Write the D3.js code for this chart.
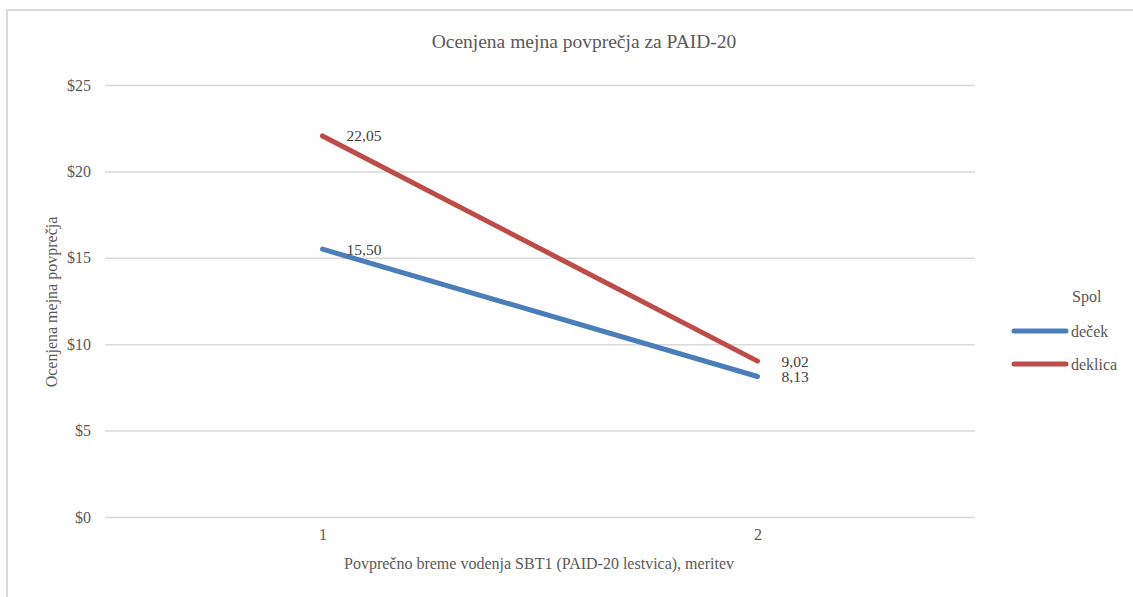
<!DOCTYPE html>
<html>
<head>
<meta charset="utf-8">
<script src="https://cdn.jsdelivr.net/npm/d3@7"></script>
<style>
  body { margin: 0; background: #fff; overflow: hidden; }
  svg text { font-family: "Liberation Serif", "Times New Roman", serif; fill: #595959; }
</style>
</head>
<body>
<div id="chart"></div>
<script>
// data
const categories = ["1", "2"];
const seriesNames = ["deček", "deklica"];
const decekValues = [15.50, 8.13];
const deklicaValues = [22.05, 9.02];
const yTicks = [0, 5, 10, 15, 20, 25];

const width = 1133, height = 597;
const margin = { top: 85, right: 158, bottom: 80, left: 105 };
const innerWidth = width - margin.left - margin.right;
const innerHeight = height - margin.top - margin.bottom;
const fontFamily = '"Liberation Serif", "Times New Roman", serif';

const colors = { "deček": "#4a7ebb", "deklica": "#be4b48" };
const series = [
  { name: seriesNames[0], values: decekValues },
  { name: seriesNames[1], values: deklicaValues }
];

const svg = d3.select("#chart").append("svg")
  .attr("width", width)
  .attr("height", height);

// chart frame: only top and left edges show in the reference
svg.append("line")
  .attr("x1", 7).attr("x2", width).attr("y1", 10).attr("y2", 10)
  .attr("stroke", "#d9d9d9").attr("stroke-width", 2);
svg.append("line")
  .attr("x1", 7).attr("x2", 7).attr("y1", 9).attr("y2", height)
  .attr("stroke", "#d9d9d9").attr("stroke-width", 2);

const g = svg.append("g").attr("transform", `translate(${margin.left},${margin.top})`);

const x = d3.scalePoint().domain(categories).range([0, innerWidth]).padding(0.5);
const y = d3.scaleLinear().domain([0, 25]).range([innerHeight, 0]);

// gridlines + y labels
const yAxis = g.append("g")
  .call(d3.axisLeft(y).tickValues(yTicks).tickSize(-innerWidth).tickPadding(14)
    .tickFormat(d => "$" + d));
yAxis.attr("font-family", null).attr("font-size", null);
yAxis.select(".domain").remove();
yAxis.selectAll(".tick line").attr("stroke", "#d9d9d9").attr("stroke-width", 1.5);
yAxis.selectAll(".tick text")
  .style("font-family", fontFamily)
  .style("font-size", "16px").attr("fill", "#595959");

// x labels
const xAxis = g.append("g")
  .attr("transform", `translate(0,${innerHeight})`)
  .call(d3.axisBottom(x).tickSize(0).tickPadding(12));
xAxis.attr("font-family", null).attr("font-size", null);
xAxis.select(".domain").remove();
xAxis.selectAll(".tick text")
  .style("font-family", fontFamily)
  .style("font-size", "16px").attr("fill", "#595959");

// lines
const line = d3.line().x((d, i) => x(categories[i])).y(d => y(d));
g.selectAll(".series")
  .data(series)
  .enter().append("path")
  .attr("class", "series")
  .attr("d", d => line(d.values))
  .attr("fill", "none")
  .attr("stroke", d => colors[d.name])
  .attr("stroke-width", 5)
  .attr("stroke-linecap", "round");

// data labels
const fmt = v => d3.format(".2f")(v).replace(".", ",");
series.forEach(s => {
  g.selectAll(null)
    .data(s.values)
    .enter().append("text")
    .attr("x", (d, i) => x(categories[i]) + 24)
    .attr("y", d => y(d))
    .attr("dy", "0.35em")
    .style("font-size", "15.5px")
    .style("fill", "#404040")
    .text(d => fmt(d));
});

// title
svg.append("text")
  .attr("x", 584).attr("y", 48)
  .attr("text-anchor", "middle")
  .style("font-size", "19.5px")
  .text("Ocenjena mejna povprečja za PAID-20");

// axis titles
svg.append("text")
  .attr("transform", `translate(57,302) rotate(-90)`)
  .attr("text-anchor", "middle")
  .style("font-size", "16px")
  .text("Ocenjena mejna povprečja");

svg.append("text")
  .attr("x", 539).attr("y", 569)
  .attr("text-anchor", "middle")
  .style("font-size", "16px")
  .text("Povprečno breme vodenja SBT1 (PAID-20 lestvica), meritev");

// legend
const legend = svg.append("g");
legend.append("text")
  .attr("x", 1072).attr("y", 302)
  .style("font-size", "16px")
  .text("Spol");
series.forEach((s, i) => {
  const ly = 331 + i * 33;
  legend.append("line")
    .attr("x1", 1014).attr("x2", 1066)
    .attr("y1", ly).attr("y2", ly)
    .attr("stroke", colors[s.name])
    .attr("stroke-width", 5)
    .attr("stroke-linecap", "round");
  legend.append("text")
    .attr("x", 1071).attr("y", ly)
    .attr("dy", "0.35em")
    .style("font-size", "16px")
    .text(s.name);
});
</script>
</body>
</html>
